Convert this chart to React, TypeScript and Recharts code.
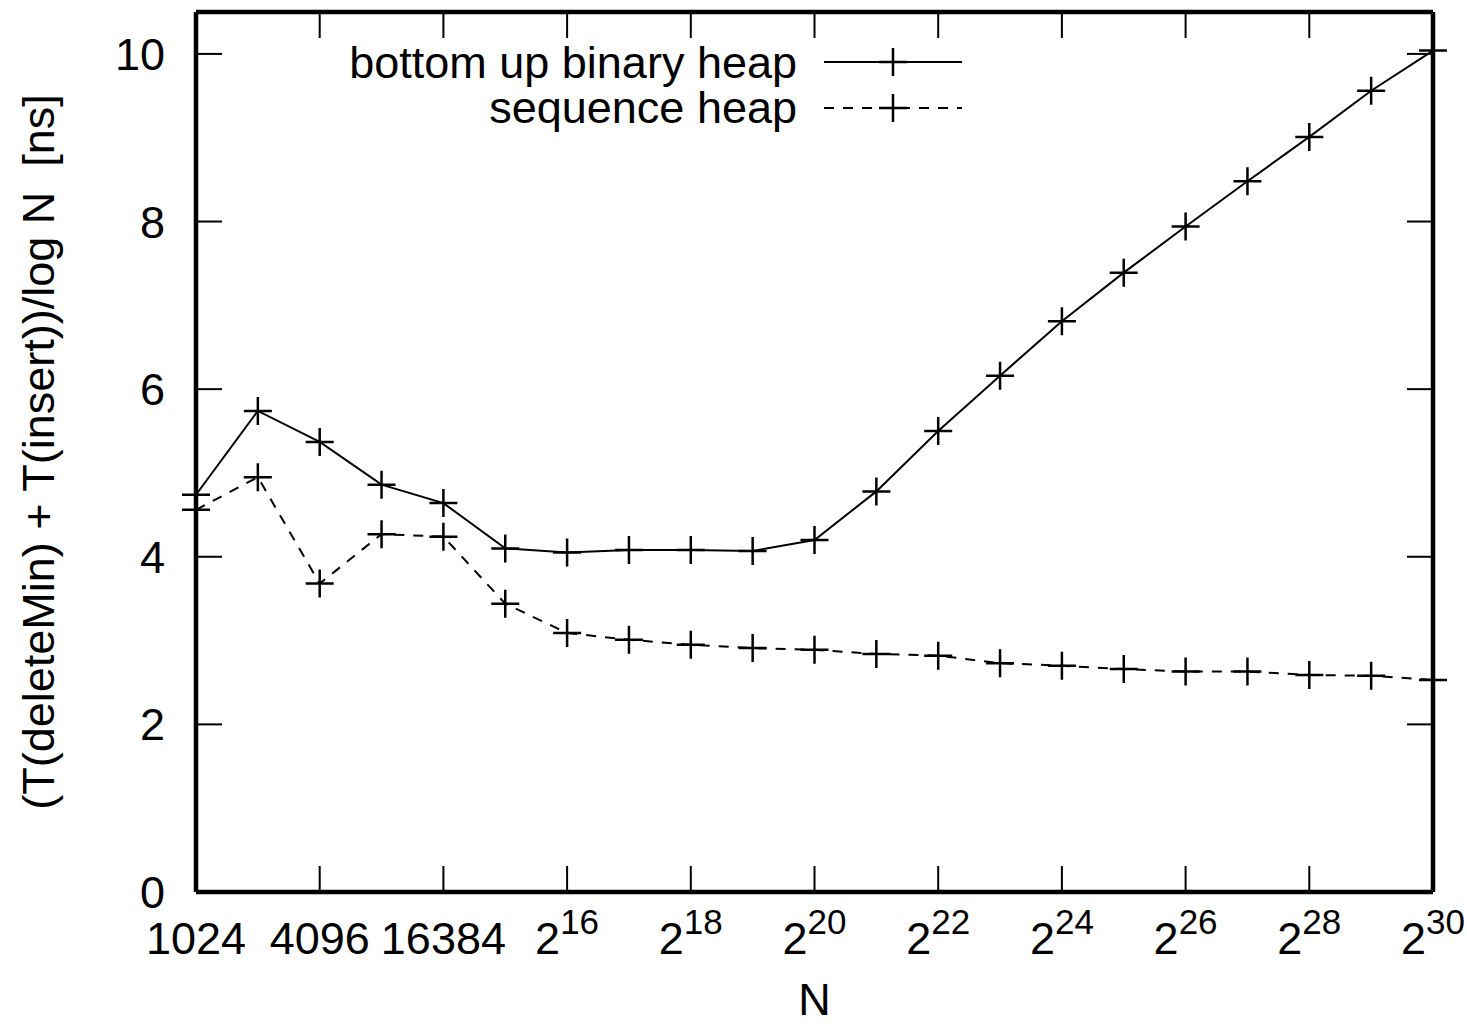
import React from "react";
import { LineChart, Line, XAxis, YAxis, Legend } from "recharts";

// log2(N), N = 1024 .. 2^30
const exponents = [10, 11, 12, 13, 14, 15, 16, 17, 18, 19, 20, 21, 22, 23, 24, 25, 26, 27, 28, 29, 30];
const binaryHeap = [4.74, 5.74, 5.37, 4.86, 4.64, 4.1, 4.05, 4.08, 4.08, 4.07, 4.2, 4.78, 5.5, 6.16, 6.81, 7.39, 7.94, 8.48, 9.01, 9.56, 10.04];
const sequenceHeap = [4.56, 4.95, 3.68, 4.27, 4.24, 3.44, 3.09, 3.01, 2.95, 2.91, 2.89, 2.84, 2.82, 2.73, 2.7, 2.66, 2.63, 2.63, 2.59, 2.58, 2.53];
const xTicks = [10, 12, 14, 16, 18, 20, 22, 24, 26, 28, 30];
const yTicks = [0, 2, 4, 6, 8, 10];
const plainLabels: Record<number, string> = { 10: "1024", 12: "4096", 14: "16384" };

const data = exponents.map((n, i) => ({ n, binary: binaryHeap[i], sequence: sequenceHeap[i] }));

const FONT = "'Liberation Sans', Arial, Helvetica, sans-serif";
const FS = 45;
const TICK = 26;

const Plus = ({ cx, cy }: any) => (
  <path d={`M${cx - 14},${cy}h28M${cx},${cy - 14}v28`} stroke="#000" strokeWidth={2.5} fill="none" />
);

const BottomTick = ({ x, y, payload }: any) => {
  const v = payload.value;
  const plain = plainLabels[v];
  return (
    <g>
      <line x1={x} y1={y} x2={x} y2={y - TICK} stroke="#000" strokeWidth={2} />
      <text x={x} y={y + 62} textAnchor="middle" fontFamily={FONT} fontSize={FS} fill="#000">
        {plain ? (
          plain
        ) : (
          <>
            <tspan>2</tspan>
            <tspan dy={-20} fontSize={35}>{v}</tspan>
          </>
        )}
      </text>
    </g>
  );
};

const TopTick = ({ x }: any) => (
  <line x1={x} y1={12} x2={x} y2={12 + TICK} stroke="#000" strokeWidth={2} />
);

const LeftTick = ({ y, payload }: any) => (
  <g>
    <line x1={196} y1={y} x2={196 + TICK} y2={y} stroke="#000" strokeWidth={2} />
    <text x={165} y={y + 16} textAnchor="end" fontFamily={FONT} fontSize={FS} fill="#000">
      {payload.value}
    </text>
  </g>
);

const RightTick = ({ y }: any) => (
  <line x1={1433} y1={y} x2={1433 - TICK} y2={y} stroke="#000" strokeWidth={2} />
);

const LegendBox = () => (
  <svg width={1467} height={150} style={{ display: "block" }}>
    <text x={797} y={78} textAnchor="end" fontFamily={FONT} fontSize={FS} fill="#000">
      bottom up binary heap
    </text>
    <line x1={824} y1={62} x2={962} y2={62} stroke="#000" strokeWidth={2} />
    <Plus cx={893} cy={62} />
    <text x={797} y={123} textAnchor="end" fontFamily={FONT} fontSize={FS} fill="#000">
      sequence heap
    </text>
    <line x1={824} y1={108} x2={962} y2={108} stroke="#000" strokeWidth={2} strokeDasharray="10 9" />
    <Plus cx={893} cy={108} />
  </svg>
);

const YTitle = ({ viewBox }: any) => {
  const cx = 54;
  const cy = viewBox.y + viewBox.height / 2;
  return (
    <text
      x={cx}
      y={cy}
      transform={`rotate(-90 ${cx} ${cy})`}
      textAnchor="middle"
      fontFamily={FONT}
      fontSize={FS}
      fill="#000"
      style={{ whiteSpace: "pre" }}
    >
      {"(T(deleteMin) + T(insert))/log N  [ns]"}
    </text>
  );
};

const XTitle = ({ viewBox }: any) => (
  <text x={viewBox.x + viewBox.width / 2} y={1015} textAnchor="middle" fontFamily={FONT} fontSize={FS} fill="#000">
    N
  </text>
);

const axisLine = { stroke: "#000", strokeWidth: 4.5 };

export default function App() {
  return (
    <div style={{ position: "absolute", left: 0, top: 0, background: "#fff" }}>
      <LineChart width={1467} height={1025} data={data} margin={{ top: 11, right: 33, bottom: 0, left: 0 }}>
        <XAxis
          dataKey="n"
          type="number"
          domain={[10, 30]}
          ticks={xTicks}
          height={133}
          tickSize={0}
          tickMargin={0}
          tickLine={false}
          axisLine={axisLine}
          tick={<BottomTick />}
          interval={0}
          label={<XTitle />}
        />
        <XAxis
          xAxisId="top"
          orientation="top"
          dataKey="n"
          type="number"
          domain={[10, 30]}
          ticks={xTicks}
          height={1}
          tickSize={0}
          tickMargin={0}
          tickLine={false}
          axisLine={axisLine}
          tick={<TopTick />}
          interval={0}
        />
        <YAxis
          type="number"
          domain={[0, 10.5]}
          ticks={yTicks}
          width={196}
          tickSize={0}
          tickMargin={0}
          tickLine={false}
          axisLine={axisLine}
          tick={<LeftTick />}
          interval={0}
          label={<YTitle />}
        />
        <YAxis
          yAxisId="right"
          orientation="right"
          type="number"
          dataKey="sequence"
          domain={[0, 10.5]}
          ticks={yTicks}
          width={1}
          tickSize={0}
          tickMargin={0}
          tickLine={false}
          axisLine={axisLine}
          tick={<RightTick />}
          interval={0}
        />
        <Legend
          layout="horizontal"
          verticalAlign="middle"
          align="center"
          wrapperStyle={{ position: "absolute", left: 0, top: 0, width: 1467, height: 150 }}
          content={<LegendBox />}
        />
        <Line
          dataKey="binary"
          stroke="#000"
          strokeWidth={2}
          dot={<Plus />}
          activeDot={false}
          isAnimationActive={false}
        />
        <Line
          yAxisId="right"
          dataKey="sequence"
          stroke="#000"
          strokeWidth={2}
          strokeDasharray="10 9"
          dot={<Plus />}
          activeDot={false}
          isAnimationActive={false}
        />
      </LineChart>
    </div>
  );
}
